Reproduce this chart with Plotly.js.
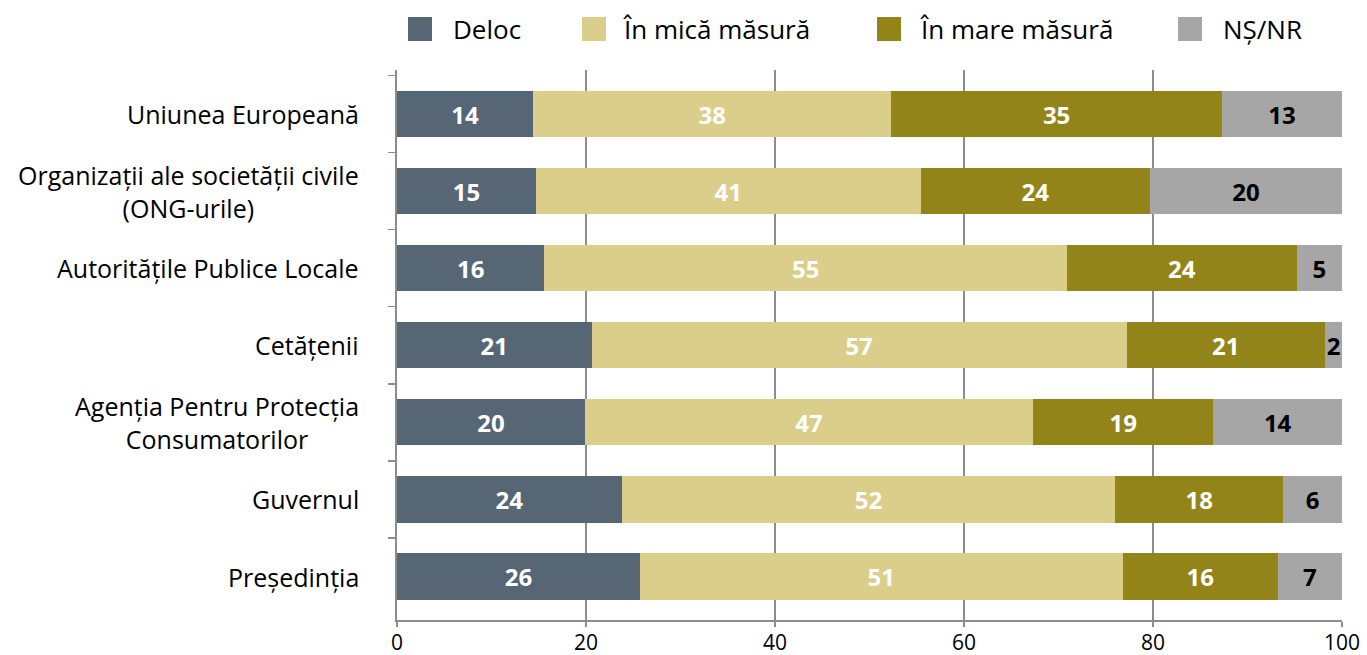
<!DOCTYPE html>
<html>
<head>
<meta charset="utf-8">
<script src="https://cdn.plot.ly/plotly-3.0.1.min.js"></script>
<style>html,body{margin:0;padding:0;background:#fff;}#chart{width:1367px;height:655px;}</style>
</head>
<body>
<div id="chart"></div>
<script>
// Categories, top to bottom
const categories = [
  "Uniunea Europeană",
  "Organizații ale societății civile<br>(ONG-urile)",
  "Autoritățile Publice Locale",
  "Cetățenii",
  "Agenția Pentru Protecția<br>Consumatorilor",
  "Guvernul",
  "Președinția"
];
const seriesNames = ["Deloc", "În mică măsură", "În mare măsură", "NȘ/NR"];
// Percentages (labels show them rounded)
const deloc   = [14.4, 14.7, 15.6, 20.6, 19.9, 23.8, 25.7];
const mica    = [37.9, 40.7, 55.3, 56.6, 47.4, 52.2, 51.1];
const mare    = [35.0, 24.3, 24.3, 21.0, 19.1, 17.8, 16.4];
const nsnr    = [12.7, 20.3, 4.8, 1.8, 13.6, 6.2, 6.8];
const xTicks  = [0, 20, 40, 60, 80, 100];

const seriesValues = [deloc, mica, mare, nsnr];
const colors = ["#566675", "#DACE8A", "#938419", "#A6A6A6"];
const textColors = ["#FFFFFF", "#FFFFFF", "#FFFFFF", "#000000"];

const FONT = "Open Sans";

const traces = seriesValues.map((vals, i) => ({
  type: "bar",
  orientation: "h",
  name: seriesNames[i],
  y: categories,
  x: vals,
  texttemplate: "%{x:.0f}",
  textposition: "inside",
  insidetextanchor: "middle",
  textangle: 0,
  constraintext: "none",
  insidetextfont: {family: FONT, size: 24, color: textColors[i], weight: 700},
  marker: {color: colors[i], line: {width: 0}},
  hoverinfo: "skip",
  showlegend: false,
  cliponaxis: false
}));

// Manual legend (positions in px converted to paper coords)
const L = 397, R = 1342, T = 70, B = 620;
const pw = R - L, ph = B - T;
const px2x = p => (p - L) / pw;
const py2y = p => 1 - (p - T) / ph;
const markerLeft = [408, 582, 877, 1178];
const textLeft = [453, 623, 920, 1223];

const shapes = [];
const annotations = [];
seriesNames.forEach((n, i) => {
  shapes.push({
    type: "rect", xref: "paper", yref: "paper",
    x0: px2x(markerLeft[i]), x1: px2x(markerLeft[i] + 24),
    y0: py2y(41), y1: py2y(17),
    fillcolor: colors[i], line: {width: 0}
  });
  annotations.push({
    xref: "paper", yref: "paper",
    x: px2x(textLeft[i] - 2), y: py2y(29),
    xanchor: "left", yanchor: "middle",
    text: n, showarrow: false,
    font: {family: FONT, size: 26, color: "#000"}
  });
});

// Category labels (centred multi-line, right-anchored)
categories.forEach(c => {
  annotations.push({
    xref: "paper", yref: "y",
    x: 0, y: c, xanchor: "right", yanchor: "middle",
    xshift: -36, align: "center",
    text: c, showarrow: false,
    font: {family: FONT, size: 25, color: "#000"}
  });
});

const layout = {
  width: 1367, height: 655,
  margin: {l: L, r: 1367 - R, t: T, b: 655 - B, pad: 0},
  paper_bgcolor: "#fff", plot_bgcolor: "#fff",
  barmode: "stack",
  bargap: 0.4,
  showlegend: false,
  font: {family: FONT, color: "#000"},
  xaxis: {
    range: [0, 100],
    tickvals: xTicks,
    ticktext: xTicks.map(String),
    showgrid: true, gridcolor: "#8C8C8C", gridwidth: 1.5,
    showline: true, linecolor: "#8C8C8C", linewidth: 2,
    ticks: "outside", ticklen: 5, tickcolor: "#8C8C8C", tickwidth: 1.5,
    tickfont: {family: FONT, size: 21, color: "#000"},
    ticklabelstandoff: -2,
    zeroline: false, fixedrange: true
  },
  yaxis: {
    type: "category",
    categoryorder: "array", categoryarray: categories,
    range: [6.564, -0.571],
    showticklabels: false,
    tickson: "boundaries",
    ticks: "outside", ticklen: 7, tickcolor: "#8C8C8C", tickwidth: 1.5,
    showline: true, linecolor: "#8C8C8C", linewidth: 2,
    showgrid: false, zeroline: false, fixedrange: true
  },
  shapes: shapes,
  annotations: annotations
};

Plotly.newPlot("chart", traces, layout, {displayModeBar: false, staticPlot: true});
</script>
</body>
</html>
